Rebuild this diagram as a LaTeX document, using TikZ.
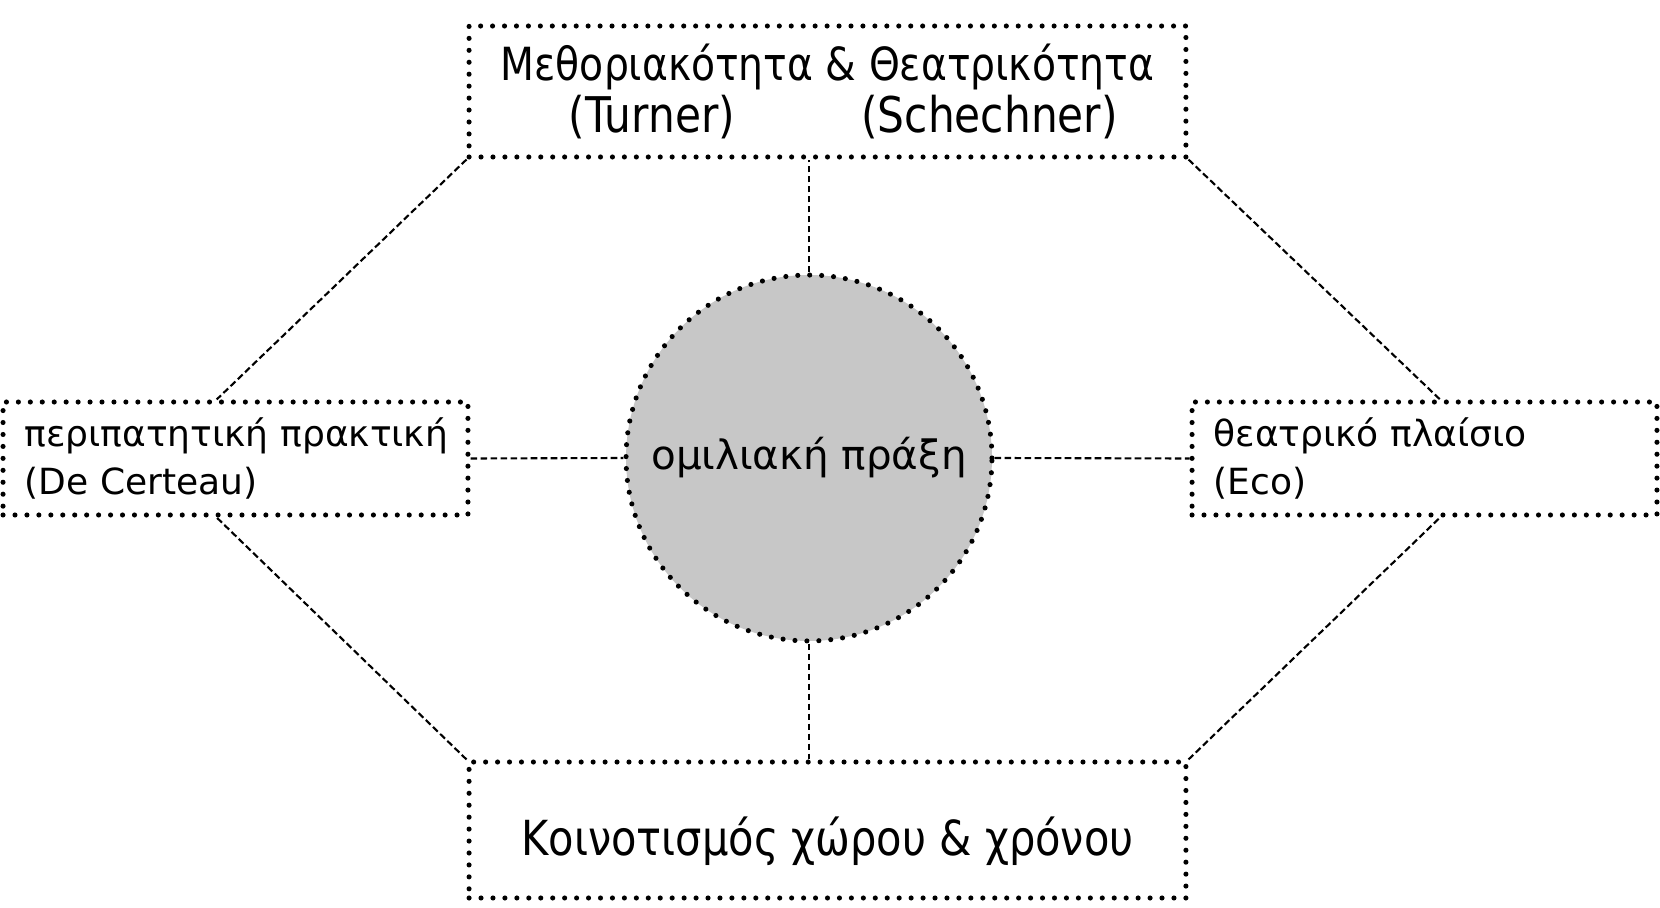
\documentclass[tikz,border=0pt]{standalone}
\usepackage{fontspec}
\setmainfont{DejaVu Sans}
\newfontfamily\narrowfont[FakeStretch=0.86]{DejaVu Sans}
\usetikzlibrary{calc}

\begin{document}
\begin{tikzpicture}[x=0.02cm,y=-0.02cm,
  dotbox/.style={draw,line width=2.9pt,dash pattern=on 0pt off 6.8pt,line cap=round,inner sep=0pt},
  sidebox/.style={dotbox,minimum width=9.3cm,minimum height=2.26cm,align=left,text width=8.44cm,
    font=\fontsize{20.5}{27}\selectfont},
  link/.style={line width=1.2pt,dash pattern=on 3.8pt off 1.9pt}]
\useasboundingbox (0,0) rectangle (1660,908);
% Centre circle
\node[dotbox,circle,fill=black!22,minimum size=7.32cm,font=\fontsize{23}{27}\selectfont]
  (praxi) at (809,458) {ομιλιακή πράξη};
% Four boxes round it
\node[dotbox,minimum width=14.34cm,minimum height=2.62cm,align=center,
  font=\narrowfont\fontsize{26}{29.5}\selectfont] (top) at (827.5,91.5)
  {Μεθοριακότητα \& Θεατρικότητα\\
   {\fontsize{28}{29.5}\selectfont\hspace*{18pt}(Turner)\hspace{72pt}(Schechner)}};
\node[sidebox] (left) at (235.5,458.5) {περιπατητική~πρακτική\\(De Certeau)};
\node[sidebox] (right) at (1424.5,458.5) {θεατρικό πλαίσιο\\(Eco)};
\node[dotbox,minimum width=14.34cm,minimum height=2.72cm,text height=1.02cm,text depth=0pt,
  font=\narrowfont\fontsize{27.5}{32}\selectfont] (bottom) at (827.5,830)
  {Κοινοτισμός χώρου \& χρόνου};
% Links to the circle
\draw[link] (praxi.north) -- (praxi.north |- top.south);
\draw[link] (praxi.south) -- (praxi.south |- bottom.north);
\draw[link] (left.east) -- (praxi.west);
\draw[link] (praxi.east) -- (right.east -| right.west);
% Links round the outside
\draw[link] (top.south west) -- ($(left.north west)!0.46!(left.north east)$);
\draw[link] (top.south east) -- ($(right.north east)!0.467!(right.north west)$);
\draw[link] (bottom.north west) -- ($(left.south west)!0.46!(left.south east)$);
\draw[link] (bottom.north east) -- ($(right.south east)!0.467!(right.south west)$);
\end{tikzpicture}
\end{document}
